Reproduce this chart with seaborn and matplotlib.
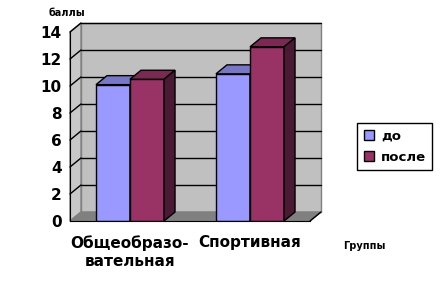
import matplotlib
matplotlib.use("Agg")
import matplotlib.pyplot as plt
import seaborn as sns
import pandas as pd
from matplotlib.patches import Polygon, Rectangle, Patch
from matplotlib.lines import Line2D

groups = ["Общеобразо-\nвательная", "Спортивная"]
periods = ["до", "после"]
before = [10.1, 10.9]
after = [10.5, 12.9]
yticks = [0, 2, 4, 6, 8, 10, 12, 14]

front_colors = ["#9999FF", "#993366"]
top_colors = ["#7777C6", "#7A2952"]
side_colors = ["#5A5AA0", "#4A1A35"]

df = pd.DataFrame({
    "group": groups * 2,
    "period": [periods[0]] * 2 + [periods[1]] * 2,
    "score": before + after,
})

sns.set_style("white")
plt.rcParams["font.family"] = ["DejaVu Sans"]
plt.rcParams["text.color"] = "black"
plt.rcParams["xtick.color"] = "black"
plt.rcParams["ytick.color"] = "black"
plt.rcParams["xtick.labelcolor"] = "black"
plt.rcParams["ytick.labelcolor"] = "black"

W, H = 443, 294
fig = plt.figure(figsize=(W / 100, H / 100), dpi=100)
fig.patch.set_facecolor("white")
ax = fig.add_axes([70 / W, (H - 221) / H, 240 / W, 189 / H])
ax.set_facecolor("none")

sns.barplot(data=df, x="group", y="score", hue="period", order=groups,
            hue_order=periods, palette=front_colors, width=0.567,
            saturation=1, edgecolor="black", linewidth=1, ax=ax,
            legend=False, zorder=5)

ax.set_xlim(-0.5, 1.5)
ax.set_ylim(0, 14)

# depth offsets in data units
dx = 11 / 120
dy = 9 / 13.5

# back wall
ax.add_patch(Rectangle((-0.5 + dx, dy), 2.0, 14, facecolor="#C0C0C0",
                       edgecolor="#808080", lw=1, zorder=0, clip_on=False))
# left wall
ax.add_patch(Polygon([(-0.5, 0), (-0.5 + dx, dy), (-0.5 + dx, 14 + dy), (-0.5, 14)],
                     closed=True, facecolor="#C8C8C8", edgecolor="#808080", lw=1,
                     zorder=0, clip_on=False))
# floor
ax.add_patch(Polygon([(-0.5, 0), (1.5, 0), (1.5 + dx, dy), (-0.5 + dx, dy)],
                     closed=True, facecolor="#808080", edgecolor="#808080", lw=1,
                     zorder=1, clip_on=False))
ax.add_line(Line2D([1.5, 1.5 + dx], [0, dy], color="black", lw=1, zorder=2, clip_on=False))

for v in yticks[1:]:
    ax.add_line(Line2D([-0.5 + dx, 1.5 + dx], [v + dy, v + dy], color="black",
                       lw=1, zorder=1, clip_on=False))
    ax.add_line(Line2D([-0.5, -0.5 + dx], [v, v + dy], color="black",
                       lw=1, zorder=1, clip_on=False))

# 3D faces of bars
for i, cont in enumerate(ax.containers):
    for bar in cont:
        x0 = bar.get_x()
        w = bar.get_width()
        h = bar.get_height()
        z = 5 + 2 * i
        bar.set_zorder(z)
        top = Polygon([(x0, h), (x0 + w, h), (x0 + w + dx, h + dy), (x0 + dx, h + dy)],
                      closed=True, facecolor=top_colors[i], edgecolor="black",
                      lw=1, zorder=z, clip_on=False)
        side = Polygon([(x0 + w, 0), (x0 + w + dx, dy), (x0 + w + dx, h + dy), (x0 + w, h)],
                       closed=True, facecolor=side_colors[i], edgecolor="black",
                       lw=1, zorder=z, clip_on=False)
        ax.add_patch(top)
        ax.add_patch(side)

# axes styling
for s in ["top", "right"]:
    ax.spines[s].set_visible(False)
ax.spines["left"].set_color("black")
ax.spines["bottom"].set_color("black")
ax.spines["left"].set_zorder(20)
ax.spines["bottom"].set_zorder(20)
ax.set_yticks(yticks)
ax.set_yticklabels([str(t) for t in yticks], fontsize=11, fontweight="bold")
ax.tick_params(axis="y", direction="out", length=4, width=1, color="black", pad=2)
ax.set_xticks([0, 1])
ax.set_xticklabels(groups, fontsize=11, fontweight="bold", linespacing=1.3)
ax.set_xticks([-0.5, 0.5, 1.5], minor=True)
ax.tick_params(axis="x", which="major", length=0, pad=10)
ax.tick_params(axis="x", which="minor", direction="out", length=4, width=1, color="black")
ax.set_xlabel("")
ax.set_ylabel("")

fig.text(49 / W, 1 - 13 / H, "баллы", fontsize=7, fontweight="bold", va="center", ha="left")
fig.text(343 / W, 1 - 246 / H, "Группы", fontsize=7, fontweight="bold", va="center", ha="left")

handles = [Patch(facecolor=c, edgecolor="black", lw=1) for c in front_colors]
leg = fig.legend(handles, periods, loc="upper left",
                 bbox_to_anchor=(357 / W, 1 - 123 / H), frameon=True,
                 fancybox=False, edgecolor="black", framealpha=1,
                 prop={"weight": "bold", "size": 9.5}, handlelength=0.8,
                 handleheight=0.8, handletextpad=0.5, borderpad=0.5,
                 labelspacing=0.6, borderaxespad=0)
leg.get_frame().set_linewidth(1)

fig.savefig("out.png", dpi=100)
